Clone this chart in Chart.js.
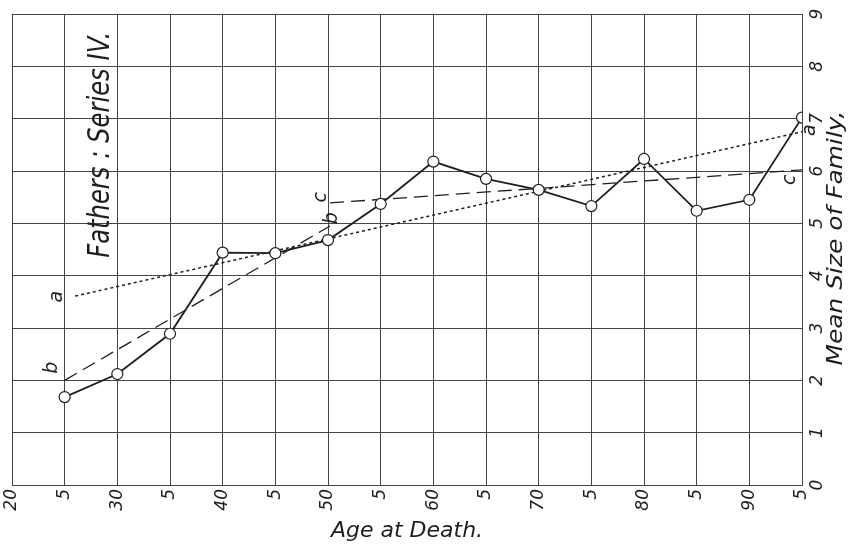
<!DOCTYPE html>
<html>
<head>
<meta charset="utf-8">
<script src="https://cdn.jsdelivr.net/npm/chart.js@4.4.1/dist/chart.umd.min.js"></script>
<style>
  html, body { margin: 0; padding: 0; background: #fff; }
</style>
</head>
<body>
<canvas id="chart" width="853" height="550"></canvas>
<script>
// ─── Data ───────────────────────────────────────────────────────────────────

const ages = [25, 30, 35, 40, 45, 50, 55, 60, 65, 70, 75, 80, 85, 90, 95];
const meanFamily = [1.68, 2.12, 2.89, 4.44, 4.43, 4.68, 5.37, 6.18, 5.85, 5.64, 5.33, 6.23, 5.24, 5.45, 7.02];

// fitted lines a, b, c (end points)
const lineAx = [26, 95];
const lineAy = [3.61, 6.75];
const lineBx = [25, 50.2];
const lineBy = [2.0, 4.95];
const lineCx = [50.2, 95];
const lineCy = [5.39, 6.02];

const xTickLabels = ['20', '5', '30', '5', '40', '5', '50', '5', '60', '5', '70', '5', '80', '5', '90', '5'];
const yTickLabels = ['0', '1', '2', '3', '4', '5', '6', '7', '8', '9'];

const INK = '#1e1e1e';
const GRID = '#444';
const HAND = '"DejaVu Sans", sans-serif';

const pts = (xs, ys) => xs.map((x, i) => ({ x, y: ys[i] }));

// ─── Text helpers ───────────────────────────────────────────────────────────

// draw text rotated to read bottom-to-top, centred on (x, y); optional length fit
function drawUp(ctx, text, x, y, font, fitLen) {
  ctx.save();
  ctx.font = font;
  ctx.fillStyle = INK;
  ctx.textAlign = 'center';
  ctx.textBaseline = 'middle';
  ctx.translate(x, y);
  ctx.rotate(-Math.PI / 2);
  if (fitLen) {
    const w = ctx.measureText(text).width;
    ctx.scale(fitLen / w, 1);
  }
  ctx.fillText(text, 0, 0);
  ctx.restore();
}

const annotations = {
  id: 'annotations',
  afterDraw(chart) {
    const { ctx, scales } = chart;
    const sx = scales.x, sy = scales.y;

    // right-hand tick labels, turned like the rest of the lettering
    sy.ticks.forEach((t, i) => {
      drawUp(ctx, yTickLabels[i], sx.right + 16, sy.getPixelForValue(t.value), 'italic 17px ' + HAND);
    });

    // axis title on the right
    drawUp(ctx, 'Mean Size of Family,', sx.right + 35, sy.getPixelForValue(4.72), 'italic 21px ' + HAND, 255);

    // panel title
    drawUp(ctx, 'Fathers : Series IV.', sx.getPixelForValue(28.5), sy.getPixelForValue(6.5), 'italic 30px ' + HAND, 226);

    // line letters
    const f = 'italic 19px ' + HAND;
    drawUp(ctx, 'a', sx.getPixelForValue(24.3), sy.getPixelForValue(3.6), f);
    drawUp(ctx, 'b', sx.getPixelForValue(23.8), sy.getPixelForValue(2.24), f);
    drawUp(ctx, 'c', sx.getPixelForValue(49.3), sy.getPixelForValue(5.5), f);
    drawUp(ctx, 'b', sx.getPixelForValue(50.4), sy.getPixelForValue(5.1), f);
    drawUp(ctx, 'c', sx.getPixelForValue(93.9), sy.getPixelForValue(5.83), f);
    drawUp(ctx, 'a', sx.right + 8, sy.getPixelForValue(6.78), f);
  }
};

// ─── Chart ──────────────────────────────────────────────────────────────────

new Chart(document.getElementById('chart').getContext('2d'), {
  type: 'line',
  data: {
    datasets: [
      {
        label: 'a',
        data: pts(lineAx, lineAy),
        borderColor: INK,
        borderWidth: 1.5,
        borderDash: [3, 3],
        pointRadius: 0,
        order: 3
      },
      {
        label: 'b',
        data: pts(lineBx, lineBy),
        borderColor: INK,
        borderWidth: 1.3,
        borderDash: [14, 7],
        pointRadius: 0,
        order: 2
      },
      {
        label: 'c',
        data: pts(lineCx, lineCy),
        borderColor: INK,
        borderWidth: 1.3,
        borderDash: [14, 7],
        pointRadius: 0,
        order: 2
      },
      {
        label: 'Mean size of family',
        data: pts(ages, meanFamily),
        borderColor: INK,
        borderWidth: 1.8,
        pointRadius: 5.5,
        pointBackgroundColor: '#fff',
        pointBorderColor: INK,
        pointBorderWidth: 1.2,
        tension: 0,
        order: 1
      }
    ]
  },
  plugins: [annotations],
  options: {
    responsive: false,
    animation: false,
    events: [],
    layout: { padding: { left: 12, top: 14, right: 0, bottom: 0 } },
    plugins: {
      legend: { display: false },
      tooltip: { enabled: false }
    },
    scales: {
      x: {
        type: 'linear',
        min: 20,
        max: 95,
        afterFit: (s) => { s.height = 65; },
        ticks: {
          stepSize: 5,
          autoSkip: false,
          minRotation: 90,
          maxRotation: 90,
          padding: 4,
          color: INK,
          font: { family: HAND, size: 17, style: 'italic' },
          callback: (v, i) => xTickLabels[i]
        },
        grid: { color: GRID, lineWidth: 1, drawTicks: false },
        border: { color: GRID, width: 1 },
        title: {
          display: true,
          text: 'Age at Death.',
          color: INK,
          font: { family: HAND, size: 22, style: 'italic' },
          padding: { top: 0, bottom: 6 }
        }
      },
      y: {
        position: 'right',
        min: 0,
        max: 9,
        afterFit: (s) => { s.width = 51; },
        ticks: { stepSize: 1, display: false },
        grid: { color: GRID, lineWidth: 1, drawTicks: false },
        border: { color: GRID, width: 1 }
      }
    }
  }
});
</script>
</body>
</html>
